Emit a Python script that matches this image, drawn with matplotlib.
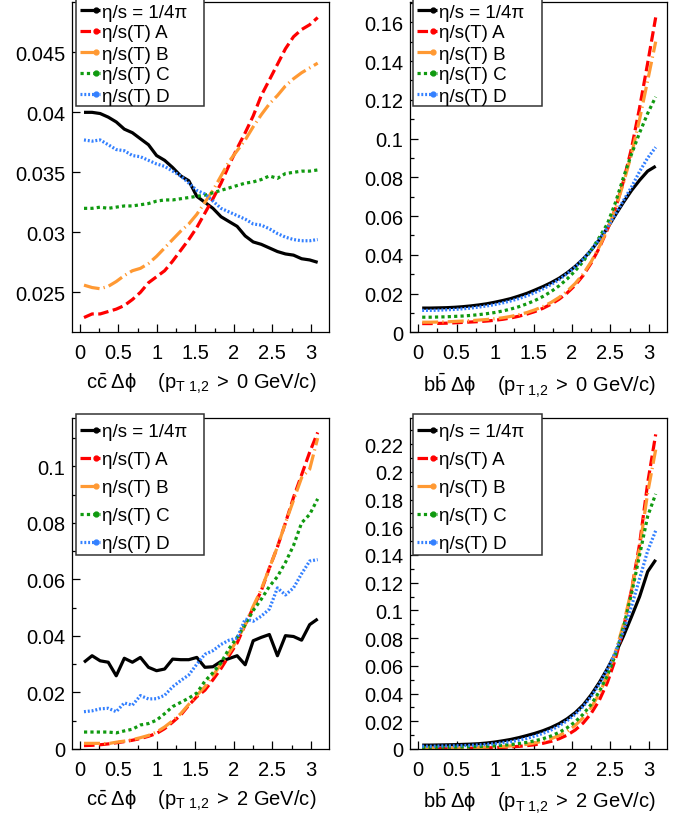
import numpy as np
import matplotlib
matplotlib.use("Agg")
import matplotlib.pyplot as plt
from matplotlib.lines import Line2D
from matplotlib.patches import Rectangle
from matplotlib.ticker import MultipleLocator, FuncFormatter

plt.rcParams['font.family'] = ['Liberation Sans', 'DejaVu Sans']
plt.rcParams['mathtext.fontset'] = 'custom'
plt.rcParams['mathtext.rm'] = 'Liberation Sans'
plt.rcParams['mathtext.it'] = 'Liberation Sans:italic'
plt.rcParams['mathtext.bf'] = 'Liberation Sans:bold'

W, H = 689, 820

# delta phi bin centres (30 bins over 0..pi)
dphi = [0.052, 0.157, 0.262, 0.367, 0.471, 0.576, 0.681, 0.785, 0.890, 0.995,
        1.100, 1.204, 1.309, 1.414, 1.518, 1.623, 1.728, 1.833, 1.937, 2.042,
        2.147, 2.251, 2.356, 2.461, 2.566, 2.670, 2.775, 2.880, 2.985, 3.089]

labels = ["η/s = 1/4π", "η/s(T) A", "η/s(T) B", "η/s(T) C", "η/s(T) D"]

# c cbar, pT > 0
cc0_const = [0.0400, 0.0400, 0.0399, 0.0396, 0.0392, 0.0386, 0.0383, 0.0378, 0.0373, 0.0364,
             0.0360, 0.0354, 0.0347, 0.0343, 0.0330, 0.0325, 0.0320, 0.0313, 0.0309, 0.0305,
             0.0297, 0.0292, 0.0290, 0.0287, 0.0284, 0.0282, 0.0281, 0.0278, 0.0277, 0.0275]
cc0_A = [0.0229, 0.0232, 0.0232, 0.0234, 0.0236, 0.0239, 0.0244, 0.0250, 0.0258, 0.0263,
         0.0268, 0.0276, 0.0285, 0.0294, 0.0304, 0.0316, 0.0328, 0.0341, 0.0356, 0.0370,
         0.0383, 0.0397, 0.0414, 0.0427, 0.0440, 0.0453, 0.0463, 0.0469, 0.0473, 0.0479]
cc0_B = [0.0256, 0.0254, 0.0253, 0.0255, 0.0259, 0.0264, 0.0268, 0.0270, 0.0274, 0.0280,
         0.0287, 0.0294, 0.0301, 0.0307, 0.0315, 0.0325, 0.0335, 0.0347, 0.0359, 0.0368,
         0.0377, 0.0388, 0.0398, 0.0407, 0.0414, 0.0422, 0.0428, 0.0433, 0.0437, 0.0441]
cc0_C = [0.0320, 0.0320, 0.0321, 0.0320, 0.0321, 0.0322, 0.0322, 0.0323, 0.0324, 0.0326,
         0.0327, 0.0327, 0.0328, 0.0329, 0.0330, 0.0331, 0.0333, 0.0335, 0.0337, 0.0339,
         0.0341, 0.0342, 0.0344, 0.0347, 0.0345, 0.0349, 0.0350, 0.0351, 0.0351, 0.0352]
cc0_D = [0.0377, 0.0376, 0.0377, 0.0373, 0.0369, 0.0368, 0.0364, 0.0363, 0.0360, 0.0357,
         0.0355, 0.0351, 0.0347, 0.0341, 0.0335, 0.0332, 0.0326, 0.0320, 0.0317, 0.0314,
         0.0311, 0.0307, 0.0306, 0.0303, 0.0299, 0.0296, 0.0294, 0.0293, 0.0293, 0.0294]

# b bbar, pT > 0
bb0_const = [0.0125, 0.0125, 0.0126, 0.0127, 0.0129, 0.0132, 0.0136, 0.0141, 0.0147, 0.0155,
             0.0164, 0.0174, 0.0187, 0.0201, 0.0218, 0.0236, 0.0256, 0.0279, 0.0307, 0.0340,
             0.0379, 0.0424, 0.0478, 0.0538, 0.0606, 0.0671, 0.0732, 0.0785, 0.0832, 0.0857]
bb0_A = [0.0045, 0.0045, 0.0046, 0.0047, 0.0049, 0.0051, 0.0053, 0.0055, 0.0058, 0.0062,
         0.0067, 0.0074, 0.0083, 0.0094, 0.0107, 0.0124, 0.0145, 0.0171, 0.0203, 0.0243,
         0.0294, 0.0358, 0.0436, 0.0530, 0.0640, 0.0780, 0.0950, 0.1160, 0.1390, 0.1625]
bb0_B = [0.0052, 0.0052, 0.0053, 0.0054, 0.0056, 0.0058, 0.0060, 0.0063, 0.0066, 0.0070,
         0.0075, 0.0082, 0.0091, 0.0102, 0.0116, 0.0133, 0.0154, 0.0180, 0.0212, 0.0252,
         0.0302, 0.0365, 0.0442, 0.0532, 0.0638, 0.0770, 0.0920, 0.1100, 0.1300, 0.1500]
bb0_C = [0.0078, 0.0078, 0.0079, 0.0080, 0.0082, 0.0084, 0.0087, 0.0091, 0.0096, 0.0102,
         0.0110, 0.0120, 0.0132, 0.0147, 0.0164, 0.0185, 0.0210, 0.0240, 0.0275, 0.0317,
         0.0366, 0.0424, 0.0490, 0.0560, 0.0670, 0.0800, 0.0920, 0.1030, 0.1130, 0.1215]
bb0_D = [0.0113, 0.0113, 0.0114, 0.0116, 0.0118, 0.0121, 0.0125, 0.0130, 0.0136, 0.0143,
         0.0152, 0.0162, 0.0174, 0.0188, 0.0205, 0.0224, 0.0246, 0.0272, 0.0302, 0.0337,
         0.0378, 0.0425, 0.0480, 0.0540, 0.0610, 0.0680, 0.0750, 0.0830, 0.0900, 0.0955]

# c cbar, pT > 2
cc2_const = [0.0307, 0.0330, 0.0312, 0.0307, 0.0259, 0.0321, 0.0307, 0.0324, 0.0289, 0.0277,
             0.0283, 0.0318, 0.0316, 0.0316, 0.0324, 0.0289, 0.0291, 0.0310, 0.0320, 0.0330,
             0.0298, 0.0383, 0.0395, 0.0405, 0.0330, 0.0401, 0.0398, 0.0385, 0.0440, 0.0460]
cc2_A = [0.0012, 0.0013, 0.0015, 0.0018, 0.0022, 0.0026, 0.0031, 0.0037, 0.0045, 0.0055,
         0.0072, 0.0095, 0.0120, 0.0155, 0.0185, 0.0208, 0.0245, 0.0285, 0.0330, 0.0375,
         0.0440, 0.0500, 0.0560, 0.0640, 0.0715, 0.0800, 0.0890, 0.0970, 0.1050, 0.1120]
cc2_B = [0.0020, 0.0020, 0.0020, 0.0019, 0.0024, 0.0028, 0.0033, 0.0040, 0.0048, 0.0060,
         0.0078, 0.0100, 0.0125, 0.0158, 0.0190, 0.0220, 0.0260, 0.0300, 0.0340, 0.0385,
         0.0440, 0.0505, 0.0565, 0.0640, 0.0715, 0.0800, 0.0880, 0.0960, 0.0990, 0.1100]
cc2_C = [0.0060, 0.0060, 0.0060, 0.0060, 0.0057, 0.0064, 0.0070, 0.0085, 0.0090, 0.0102,
         0.0125, 0.0150, 0.0165, 0.0180, 0.0198, 0.0240, 0.0270, 0.0305, 0.0355, 0.0395,
         0.0440, 0.0490, 0.0530, 0.0575, 0.0610, 0.0660, 0.0720, 0.0800, 0.0830, 0.0885]
cc2_D = [0.0132, 0.0135, 0.0142, 0.0144, 0.0132, 0.0163, 0.0155, 0.0189, 0.0177, 0.0178,
         0.0190, 0.0220, 0.0242, 0.0262, 0.0300, 0.0335, 0.0348, 0.0370, 0.0385, 0.0392,
         0.0460, 0.0452, 0.0470, 0.0495, 0.0570, 0.0545, 0.0570, 0.0620, 0.0665, 0.0670]

# b bbar, pT > 2
bb2_const = [0.0028, 0.0028, 0.0029, 0.0030, 0.0031, 0.0033, 0.0035, 0.0038, 0.0043, 0.0050,
             0.0059, 0.0069, 0.0082, 0.0097, 0.0113, 0.0132, 0.0155, 0.0183, 0.0218, 0.0262,
             0.0318, 0.0392, 0.0480, 0.0580, 0.0690, 0.0815, 0.0955, 0.1100, 0.1280, 0.1365]
bb2_A = [0.0004, 0.0004, 0.0004, 0.0005, 0.0005, 0.0006, 0.0006, 0.0007, 0.0008, 0.0010,
         0.0012, 0.0015, 0.0019, 0.0024, 0.0031, 0.0041, 0.0055, 0.0074, 0.0100, 0.0137,
         0.0188, 0.0258, 0.0352, 0.0480, 0.0650, 0.0870, 0.1150, 0.1480, 0.1920, 0.2270]
bb2_B = [0.0006, 0.0006, 0.0007, 0.0007, 0.0008, 0.0009, 0.0010, 0.0011, 0.0013, 0.0015,
         0.0018, 0.0022, 0.0027, 0.0034, 0.0044, 0.0057, 0.0074, 0.0097, 0.0128, 0.0170,
         0.0226, 0.0300, 0.0400, 0.0530, 0.0700, 0.0900, 0.1150, 0.1450, 0.1850, 0.2160]
bb2_C = [0.0012, 0.0012, 0.0013, 0.0013, 0.0014, 0.0015, 0.0016, 0.0018, 0.0020, 0.0023,
         0.0027, 0.0032, 0.0039, 0.0048, 0.0059, 0.0074, 0.0094, 0.0120, 0.0153, 0.0196,
         0.0252, 0.0323, 0.0415, 0.0530, 0.0680, 0.0880, 0.1120, 0.1400, 0.1680, 0.1840]
bb2_D = [0.0020, 0.0020, 0.0021, 0.0022, 0.0023, 0.0024, 0.0026, 0.0029, 0.0033, 0.0038,
         0.0045, 0.0053, 0.0064, 0.0077, 0.0093, 0.0113, 0.0137, 0.0167, 0.0204, 0.0250,
         0.0308, 0.0380, 0.0468, 0.0575, 0.0700, 0.0850, 0.1030, 0.1230, 0.1430, 0.1575]

# line styles: colour, dash pattern (in linewidths)
styles = [
    dict(color='black', dashes=None),
    dict(color='#ff0000', dashes=(3.3, 1.4)),
    dict(color='#ff9933', dashes=(5.0, 1.3, 0.4, 1.3)),
    dict(color='#109a10', dashes=(1.0, 1.0)),
    dict(color='#3380ff', dashes=(0.6, 0.6)),
]
LW = 2.3

XLAB = r'$\mathrm{%s\;\Delta\phi\ \ \ \ (p_{T\ 1{,}2}\;{>}\;%d\ GeV/c)}$'

panels = [
    dict(series=[cc0_const, cc0_A, cc0_B, cc0_C, cc0_D], ylim=(0.02167, 0.04917),
         major=0.005, minor=None, xlabel=XLAB % (r'c\bar{c}', 0)),
    dict(series=[bb0_const, bb0_A, bb0_B, bb0_C, bb0_D], ylim=(0.0, 0.1703),
         major=0.02, minor=0.01, xlabel=XLAB % (r'b\bar{b}', 0)),
    dict(series=[cc2_const, cc2_A, cc2_B, cc2_C, cc2_D], ylim=(0.0, 0.117),
         major=0.02, minor=0.01, xlabel=XLAB % (r'c\bar{c}', 2)),
    dict(series=[bb2_const, bb2_A, bb2_B, bb2_C, bb2_D], ylim=(0.0, 0.2386),
         major=0.02, minor=0.01, xlabel=XLAB % (r'b\bar{b}', 2)),
]

# axes boxes in pixels: left, top, right, bottom
boxes = [(72.3, 3.3, 329.3, 333.3), (410.5, 3.3, 667.3, 333.3),
         (72.3, 419.3, 329.3, 750.0), (410.5, 419.3, 667.3, 750.0)]

# legend boxes in pixels: left, top, right, bottom, row spacing
leg_boxes = [(76, -3, 204, 107, 21), (413, -3, 542, 107, 21),
             (76, 415, 204, 556, 28), (413, 415, 542, 556, 28)]

fig = plt.figure(figsize=(W / 100, H / 100), dpi=100)


def fx(px):
    return px / W


def fy(py):
    return 1 - py / H


def draw_legend(box):
    x0, y0, x1, y1, step = box
    fig.add_artist(Rectangle((fx(x0), fy(y1)), fx(x1 - x0), (y1 - y0) / H,
                             transform=fig.transFigure, facecolor='white',
                             edgecolor='#333333', lw=1.1, zorder=20))
    first = (y0 + 14) if step == 21 else (y0 + 15.7)
    for i, (lab, st) in enumerate(zip(labels, styles)):
        yy = first + i * step
        ln = Line2D([fx(x0 + 4), fx(x0 + 24)], [fy(yy), fy(yy)], transform=fig.transFigure,
                    color=st['color'], lw=LW, solid_capstyle='butt', zorder=21)
        if st['dashes'] is not None:
            ln.set_dashes(st['dashes'])
        fig.add_artist(ln)
        fig.add_artist(Line2D([fx(x0 + 20)], [fy(yy)], transform=fig.transFigure,
                              marker='o', ms=3.5, color=st['color'], lw=0, zorder=22))
        fig.text(fx(x0 + 26), fy(yy), lab, fontsize=13.5, va='center_baseline',
                 ha='left', zorder=23)


for p, box, lbox in zip(panels, boxes, leg_boxes):
    l, t, r, b = box
    ax = fig.add_axes([fx(l), fy(b), fx(r - l), (b - t) / H])
    for vals, st in zip(p['series'], styles):
        line, = ax.plot(dphi, vals, color=st['color'], lw=LW, solid_capstyle='butt',
                        dash_capstyle='butt')
        if st['dashes'] is not None:
            line.set_dashes(st['dashes'])
    ax.set_xlim(-0.1, 3.24)
    ax.set_ylim(*p['ylim'])
    ax.xaxis.set_major_locator(MultipleLocator(0.5))
    ax.xaxis.set_minor_locator(MultipleLocator(0.25))
    ax.yaxis.set_major_locator(MultipleLocator(p['major']))
    if p['minor']:
        ax.yaxis.set_minor_locator(MultipleLocator(p['minor']))
    ax.xaxis.set_major_formatter(FuncFormatter(lambda v, pos: f'{v:g}'))
    ax.yaxis.set_major_formatter(FuncFormatter(lambda v, pos: f'{round(v, 4):g}'))
    ax.tick_params(which='both', direction='in', top=False, right=False, width=0.9)
    ax.tick_params(which='major', length=5.8, labelsize=14.5)
    ax.tick_params(which='minor', length=3.0)
    ax.tick_params(axis='x', which='major', pad=8)
    ax.tick_params(axis='y', which='major', pad=5)
    for s in ax.spines.values():
        s.set_linewidth(0.9)
    ax.set_xlabel(p['xlabel'], fontsize=14.5, labelpad=6)
    draw_legend(lbox)

fig.savefig('out.png', dpi=100)
